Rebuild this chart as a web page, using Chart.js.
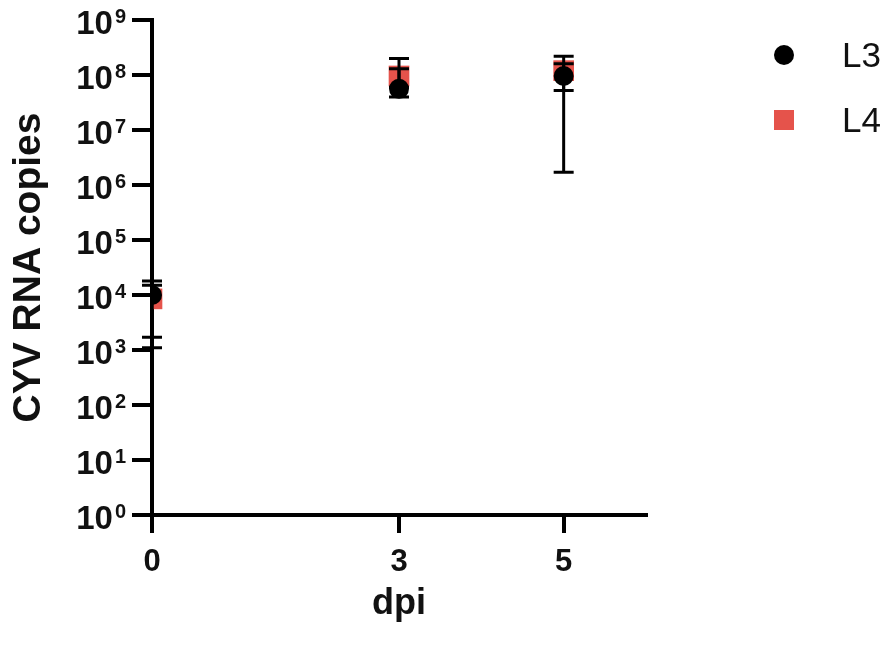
<!DOCTYPE html>
<html>
<head>
<meta charset="utf-8">
<script src="https://cdn.jsdelivr.net/npm/chart.js@4/dist/chart.umd.min.js"></script>
<style>
  html, body { margin: 0; padding: 0; background: #fff; }
  #wrap { position: relative; width: 886px; height: 646px; }
  #legend { position: absolute; left: 0; top: 0; font-family: "Liberation Sans", Arial, sans-serif; font-size: 35px; color: #111; }
  .item { position: absolute; left: 774px; height: 40px; display: flex; align-items: center; }
  .mark { width: 20px; height: 20px; margin-right: 48px; }
  .circle { background: #000; border-radius: 50%; }
  .square { background: #e5534b; }
</style>
</head>
<body>
<div id="wrap">
  <canvas id="cyvChart" width="886" height="646"></canvas>
  <div id="legend">
    <div class="item" style="top:35px"><span class="mark circle"></span>L3</div>
    <div class="item" style="top:100px"><span class="mark square"></span>L4</div>
  </div>
</div>
<script>
// ============================
// DATA
// ============================
const dpi = [0, 3, 5];
const l3Mean = [1.0e4, 5.6e7, 9.6e7];
const l3Upper = [1.8e4, 1.3e8, 1.6e8];
const l3Lower = [1.1e3, 4.0e7, 1.7e6];
const l4Mean = [8.5e3, 9.6e7, 1.2e8];
const l4Upper = [1.5e4, 2.0e8, 2.2e8];
const l4Lower = [1.7e3, 6.0e7, 5.2e7];
const xTicks = [0, 3, 5];
const yTicks = [1, 1e1, 1e2, 1e3, 1e4, 1e5, 1e6, 1e7, 1e8, 1e9];

const RED = "#e5534b";
const FONT = "'Liberation Sans', Arial, sans-serif";

function toPoints(xs, ys) {
  return xs.map((x, i) => ({ x: x, y: ys[i] }));
}

// ============================
// ERROR BARS (drawn after L4, before L3)
// ============================
const errorBars = {
  id: "errorBars",
  afterDatasetDraw(chart, args) {
    if (args.index !== 1) return;
    const ctx = chart.ctx;
    const xs = chart.scales.x;
    const ys = chart.scales.y;
    const sets = [
      [l4Upper, l4Lower],
      [l3Upper, l3Lower],
    ];
    ctx.save();
    ctx.strokeStyle = "#000";
    ctx.lineWidth = 3;
    sets.forEach(([up, lo]) => {
      dpi.forEach((d, i) => {
        const px = xs.getPixelForValue(d);
        const yT = ys.getPixelForValue(up[i]);
        const yB = ys.getPixelForValue(lo[i]);
        ctx.beginPath();
        ctx.moveTo(px, yT);
        ctx.lineTo(px, yB);
        ctx.moveTo(px - 10, yT);
        ctx.lineTo(px + 10, yT);
        ctx.moveTo(px - 10, yB);
        ctx.lineTo(px + 10, yB);
        ctx.stroke();
      });
    });
    ctx.restore();
  },
};

// ============================
// POWER-OF-TEN TICK LABELS (10 + superscript exponent)
// ============================
const powerLabels = {
  id: "powerLabels",
  afterDraw(chart) {
    const ctx = chart.ctx;
    const ys = chart.scales.y;
    const right = ys.right - 26;
    ctx.save();
    ctx.fillStyle = "#111";
    yTicks.forEach((v) => {
      const py = ys.getPixelForValue(v) + 2;
      const exp = String(Math.round(Math.log10(v)));
      ctx.font = "bold 20px " + FONT;
      const ew = ctx.measureText(exp).width;
      ctx.textAlign = "left";
      ctx.textBaseline = "alphabetic";
      ctx.fillText(exp, right - ew, py + 1);
      ctx.font = "bold 33px " + FONT;
      ctx.textAlign = "right";
      ctx.fillText("10", right - ew - 2, py + 12);
    });
    ctx.restore();
  },
};

// ============================
// CHART
// ============================
const canvas = document.getElementById("cyvChart");
new Chart(canvas, {
  type: "scatter",
  data: {
    datasets: [
      {
        label: "L3",
        data: toPoints(dpi, l3Mean),
        pointStyle: "circle",
        pointRadius: 10,
        pointBorderWidth: 0,
        backgroundColor: "#000",
        borderColor: "#000",
      },
      {
        label: "L4",
        data: toPoints(dpi, l4Mean),
        pointStyle: "rect",
        pointRadius: 14.6,
        pointBorderWidth: 0,
        backgroundColor: RED,
        borderColor: RED,
      },
    ],
  },
  options: {
    responsive: false,
    animation: false,
    layout: { padding: { left: 0, top: 20, right: 240, bottom: 0 } },
    plugins: {
      legend: { display: false },
      tooltip: { enabled: false },
    },
    scales: {
      x: {
        type: "linear",
        min: 0,
        max: 6,
        afterBuildTicks: (scale) => {
          scale.ticks = xTicks.map((v) => ({ value: v }));
        },
        afterFit: (scale) => {
          scale.height = 131;
        },
        border: { display: true, color: "#000", width: 4 },
        grid: {
          drawOnChartArea: false,
          drawTicks: true,
          tickLength: 18,
          color: "#000",
          lineWidth: 4,
        },
        ticks: {
          padding: 11,
          color: "#111",
          font: { family: FONT, size: 31, weight: "bold" },
        },
        title: {
          display: true,
          text: "dpi",
          color: "#111",
          padding: { top: 0, bottom: 20 },
          font: { family: FONT, size: 36, weight: "bold" },
        },
      },
      y: {
        type: "logarithmic",
        min: 1,
        max: 1e9,
        afterBuildTicks: (scale) => {
          scale.ticks = yTicks.map((v) => ({ value: v, major: true }));
        },
        afterFit: (scale) => {
          scale.width = 152;
        },
        border: { display: true, color: "#000", width: 4 },
        grid: {
          drawOnChartArea: false,
          drawTicks: true,
          tickLength: 20,
          color: "#000",
          lineWidth: 4,
        },
        ticks: { display: false },
        title: {
          display: true,
          text: "CYV RNA copies",
          color: "#111",
          padding: { top: 6, bottom: 0 },
          font: { family: FONT, size: 39, weight: "bold" },
        },
      },
    },
  },
  plugins: [errorBars, powerLabels],
});
</script>
</body>
</html>
